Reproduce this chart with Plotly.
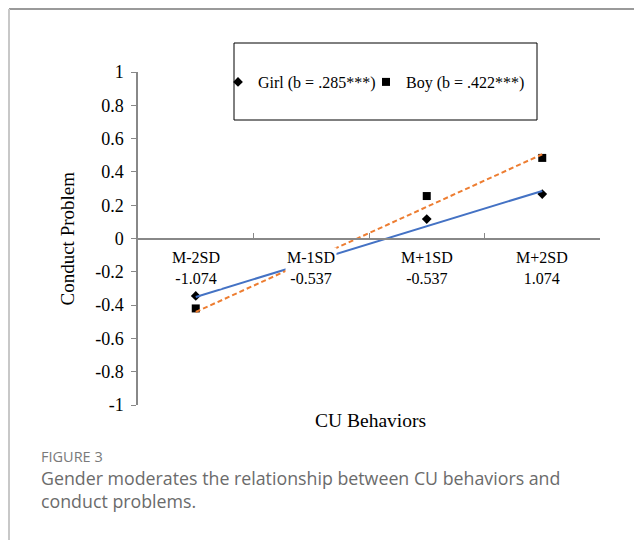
import numpy as np
import plotly.graph_objects as go

categories = ["M-2SD", "M-1SD", "M+1SD", "M+2SD"]
cat_values = ["-1.074", "-0.537", "-0.537", "1.074"]
girl = [-0.345, -0.17, 0.117, 0.267]
boy = [-0.42, -0.19, 0.255, 0.484]
ytick_vals = [1, 0.8, 0.6, 0.4, 0.2, 0, -0.2, -0.4, -0.6, -0.8, -1]
ytick_text = ["1", "0.8", "0.6", "0.4", "0.2", "0", "-0.2", "-0.4", "-0.6", "-0.8", "-1"]

# page offset (default body margin of the html page)
OFF = 8
PAGE_W, PAGE_H = 642, 540
W, H = PAGE_W - OFF, PAGE_H - OFF
L, R, T, B = 138, 600, 72, 405   # plot area in page pixels


def px(x):
    return (x - L) / (R - L)


def py(y):
    return (B - y) / (B - T)


idx = np.arange(len(categories))
girl_fit = np.polyval(np.polyfit(idx, girl, 1), idx)
boy_fit = np.polyval(np.polyfit(idx, boy, 1), idx)

serif = "Liberation Serif, Times New Roman, serif"
sans = "Open Sans, sans-serif"

fig = go.Figure()
fig.add_trace(go.Scatter(x=categories, y=girl, mode="markers", name="Girl (b = .285***)",
                         legend="legend",
                         marker=dict(symbol="diamond", size=7.5, color="black")))
fig.add_trace(go.Scatter(x=categories, y=boy, mode="markers", name="Boy (b = .422***)",
                         legend="legend2",
                         marker=dict(symbol="square", size=8, color="black")))
fig.add_trace(go.Scatter(x=categories, y=girl_fit, mode="lines", showlegend=False,
                         line=dict(color="#4472C4", width=2)))
fig.add_trace(go.Scatter(x=categories, y=boy_fit, mode="lines", showlegend=False,
                         line=dict(color="#ED7D31", width=2, dash="5px,3px")))

annotations = []
for c, v in zip(categories, cat_values):
    annotations.append(dict(x=c, y=0, xref="x", yref="y", text=f"{c}<br>{v}",
                            showarrow=False, yanchor="top", yshift=-8,
                            bgcolor="white", font=dict(family=serif, size=16, color="black")))
annotations.append(dict(x=px(67), y=0, xref="paper", yref="y", text="Conduct Problem",
                        textangle=-90, showarrow=False, xanchor="center", yanchor="middle",
                        font=dict(family=serif, size=19, color="black")))
annotations.append(dict(x=px(370), y=py(420), xref="paper", yref="paper", text="CU Behaviors",
                        showarrow=False, xanchor="center", yanchor="middle",
                        font=dict(family=serif, size=19.5, color="black")))
annotations.append(dict(x=px(40), y=py(456), xref="paper", yref="paper", text="FIGURE 3",
                        showarrow=False, xanchor="left", yanchor="middle", borderpad=0,
                        font=dict(family=sans, size=14.5, color="#7a7a7a")))
annotations.append(dict(x=px(40), y=py(490), xref="paper", yref="paper",
                        text="Gender moderates the relationship between CU behaviors and<br>conduct problems.",
                        showarrow=False, xanchor="left", yanchor="middle", align="left",
                        borderpad=0,
                        font=dict(family=sans, size=17.8, color="#6b6b6b")))

shapes = [
    dict(type="rect", xref="paper", yref="paper", x0=px(234), x1=px(537), y0=py(43), y1=py(120),
         line=dict(color="black", width=1), fillcolor="white", layer="below"),
    dict(type="line", xref="paper", yref="paper", x0=px(9), x1=px(700), y0=py(9), y1=py(9),
         line=dict(color="#9a9a9a", width=2)),
    dict(type="line", xref="paper", yref="paper", x0=px(9), x1=px(9), y0=py(9), y1=py(600),
         line=dict(color="#c8c8c8", width=2)),
]

legend_style = dict(orientation="h", yanchor="middle", xanchor="left",
                    font=dict(family=serif, size=16, color="black"),
                    bgcolor="rgba(0,0,0,0)", itemwidth=30)

fig.update_layout(
    width=W, height=H,
    margin=dict(l=L - OFF, r=PAGE_W - R, t=T - OFF, b=PAGE_H - B, autoexpand=False),
    paper_bgcolor="white", plot_bgcolor="rgba(0,0,0,0)",
    showlegend=True,
    legend=dict(x=px(218), y=py(82), **legend_style),
    legend2=dict(x=px(366), y=py(82), **legend_style),
    annotations=annotations, shapes=shapes,
    xaxis=dict(type="category", range=[-0.5, 3.5], showticklabels=False,
               showline=True, linecolor="#888888", linewidth=1.5,
               ticks="inside", tickson="boundaries", ticklen=5, tickcolor="#888888",
               showgrid=False, zeroline=False, anchor="free", position=0.5,
               fixedrange=True),
    yaxis=dict(range=[-1, 1], tickvals=ytick_vals, ticktext=ytick_text,
               showline=True, linecolor="#888888", linewidth=1.5,
               ticks="outside", ticklen=5, tickcolor="#888888",
               tickfont=dict(family=serif, size=18, color="black"),
               ticklabelstandoff=4,
               showgrid=False, zeroline=False),
)

fig.write_html("out.html")
